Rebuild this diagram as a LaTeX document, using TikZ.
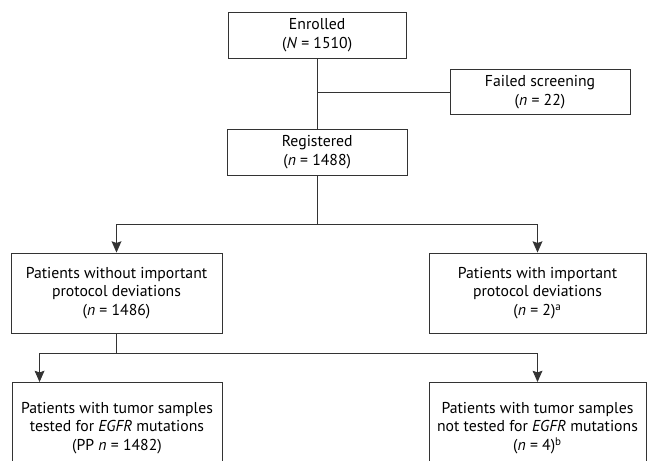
\documentclass[tikz,border=0pt]{standalone}
\usepackage{fontspec}
\setmainfont{PT Sans}
\usepackage{tikz}
\usetikzlibrary{positioning,calc,arrows.meta}
\usepackage{xcolor}

\begin{document}
\begin{tikzpicture}[
    box/.style={rectangle,draw=black!80,line width=0.65pt,align=center,font=\fontsize{11.2}{13.4}\selectfont,inner sep=2pt},
    line/.style={draw=black!80,line width=0.65pt},
    arrow/.style={line,-{Stealth[length=8pt,width=7pt,inset=1.2pt]}}]

\useasboundingbox (0,0) rectangle (16.175,-11.525);
\clip (0,0) rectangle (16.175,-11.525);

\node[box,minimum width=4.45cm,minimum height=1.15cm] (enrolled) at (7.93,-0.875) {Enrolled\\(\textit{N} = 1510)};
\node[box,minimum width=4.5cm,minimum height=1.125cm] (failed) at (13.5,-2.3) {Failed screening\\(\textit{n} = 22)};
\node[box,minimum width=4.5cm,minimum height=1.15cm] (registered) at (7.93,-3.8) {Registered\\(\textit{n} = 1488)};

\node[box,minimum width=5.275cm,minimum height=2cm] (without) at (2.9125,-7.325) {Patients without important\\protocol deviations\\(\textit{n} = 1486)};
\node[box,minimum width=5.425cm,minimum height=2cm] (with) at (13.4375,-7.325) {Patients with important\\protocol deviations\\(\textit{n} = 2)\textsuperscript{a}};

\node[box,minimum width=5.25cm,minimum height=2.28cm,anchor=north] (tested) at (2.925,-9.55) {Patients with tumor samples\\tested for \textit{EGFR} mutations\\(PP \textit{n} = 1482)};
\node[box,minimum width=5.425cm,minimum height=2.28cm,anchor=north] (untested) at (13.4375,-9.55) {Patients with tumor samples\\not tested for \textit{EGFR} mutations\\(\textit{n} = 4)\textsuperscript{b}};

% connectors
\coordinate (split1) at (7.93,-5.6);
\coordinate (split2) at ($(without.south)+(0,-0.5)$);
\coordinate (testin) at ($(tested.north west)+(0.7,0)$);

\draw[line] (enrolled.south) -- (registered.north);
\draw[line] (enrolled.south |- failed.west) -- (failed.west);
\draw[line] (registered.south) -- (split1);
\draw[arrow] (split1) -| (without.north);
\draw[arrow] (split1) -| (with.north);
\draw[line] (without.south) -- (split2);
\draw[arrow] (split2) -| (testin);
\draw[arrow] (split2) -| (untested.north);

\end{tikzpicture}
\end{document}
